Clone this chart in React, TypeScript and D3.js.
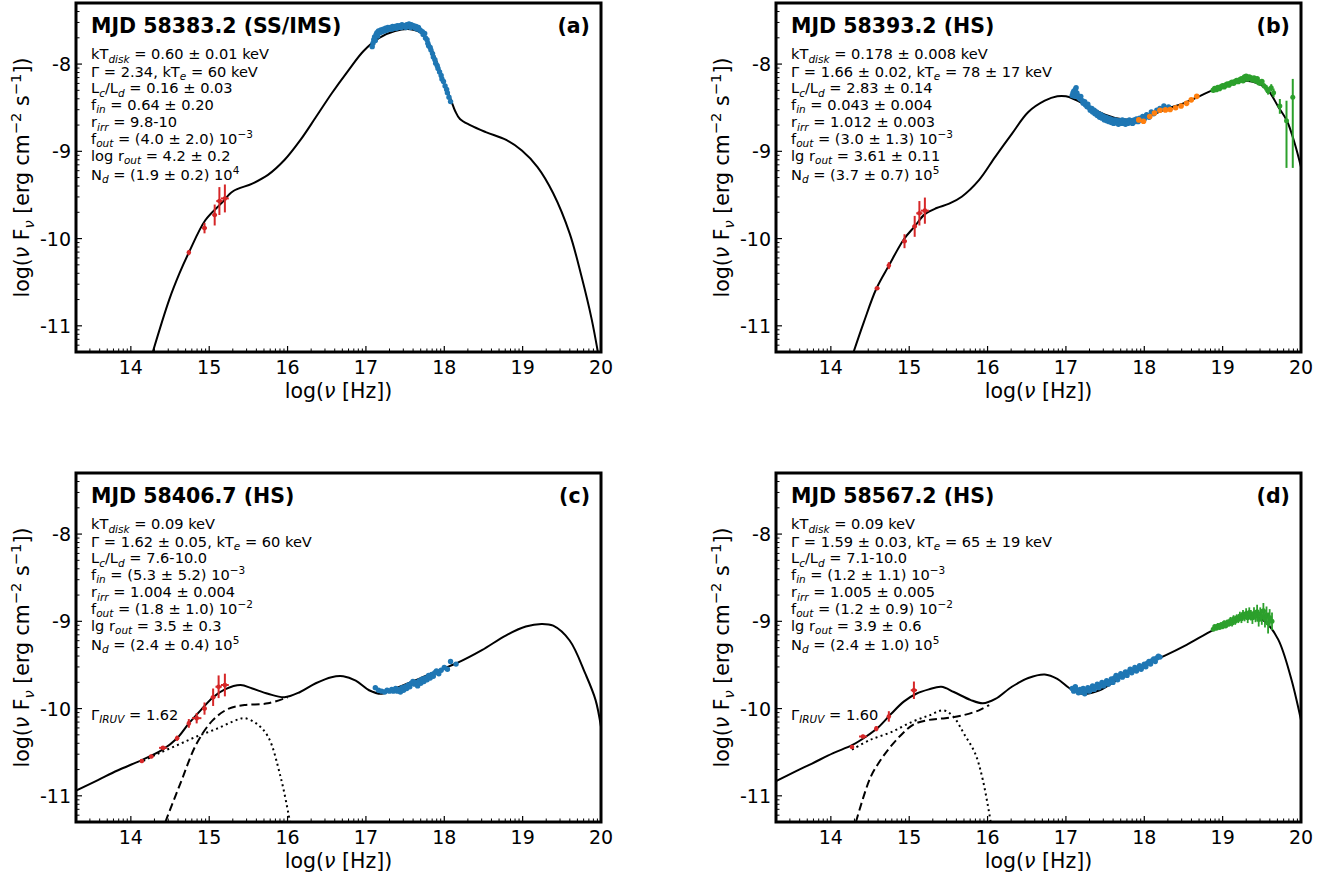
import * as d3 from 'd3';

// axis setup shared by all four panels
const X_DOMAIN: [number, number] = [13.3, 20];
const Y_DOMAIN: [number, number] = [-11.3, -7.3];
const xMajor = [14, 15, 16, 17, 18, 19, 20];
const xTickLabels = ['14', '15', '16', '17', '18', '19', '20'];
const yMajor = [-8, -9, -10, -11];
const yTickLabels = ['-8', '-9', '-10', '-11'];

const BLUE = '#1f77b4';
const ORANGE = '#ff7f0e';
const GREEN = '#2ca02c';
const RED = '#d62728';

type Pt = [number, number];
type ErrPt = [number, number, number, number]; // x, y, xerr, yerr

// ---------- panel (a) ----------
const modelA: Pt[] = [
  [14.28, -11.3], [14.49, -10.7], [14.62, -10.4], [14.74, -10.16], [14.95, -9.79], [15.15, -9.6],
  [15.3, -9.46], [15.55, -9.37], [15.75, -9.27], [15.96, -9.1], [16.16, -8.875], [16.36, -8.61],
  [16.56, -8.34], [16.77, -8.08], [16.97, -7.85], [17.17, -7.7], [17.37, -7.62], [17.57, -7.6],
  [17.73, -7.66], [17.88, -7.92], [18.0, -8.23], [18.08, -8.4], [18.14, -8.54], [18.2, -8.63],
  [18.33, -8.7], [18.53, -8.78], [18.79, -8.87], [18.99, -8.99], [19.19, -9.18], [19.39, -9.48],
  [19.6, -9.94], [19.75, -10.43], [19.88, -10.92], [19.96, -11.3],
];
const blueA: Pt[] = [
  [17.08, -7.8], [17.09, -7.76], [17.1, -7.72], [17.11, -7.69], [17.12, -7.73], [17.13, -7.66],
  [17.14, -7.64], [17.15, -7.68], [17.16, -7.62], [17.18, -7.64], [17.19, -7.61], [17.21, -7.63],
  [17.22, -7.6], [17.24, -7.62], [17.25, -7.59], [17.27, -7.61], [17.28, -7.58], [17.3, -7.6],
  [17.31, -7.58], [17.33, -7.6], [17.34, -7.57], [17.36, -7.59], [17.37, -7.57], [17.39, -7.59],
  [17.4, -7.56], [17.42, -7.58], [17.43, -7.56], [17.45, -7.58], [17.46, -7.55], [17.48, -7.57],
  [17.49, -7.56], [17.51, -7.58], [17.52, -7.55], [17.54, -7.57], [17.55, -7.54], [17.57, -7.58],
  [17.58, -7.55], [17.6, -7.57], [17.61, -7.56], [17.63, -7.59], [17.64, -7.57], [17.66, -7.6],
  [17.67, -7.58], [17.69, -7.61], [17.7, -7.62], [17.72, -7.63], [17.73, -7.66], [17.75, -7.65],
  [17.76, -7.7], [17.78, -7.72], [17.79, -7.76], [17.8, -7.79], [17.82, -7.81], [17.83, -7.84],
  [17.85, -7.88], [17.86, -7.92], [17.88, -7.95], [17.89, -7.99], [17.91, -8.02], [17.92, -8.05],
  [17.94, -8.09], [17.96, -8.13], [17.97, -8.17], [17.99, -8.2], [18.01, -8.25], [18.03, -8.29],
  [18.04, -8.33], [18.06, -8.38], [18.08, -8.43],
];
const redA: ErrPt[] = [
  [14.74, -10.16, 0.01, 0.03], [14.94, -9.88, 0.03, 0.06], [15.07, -9.73, 0.03, 0.12],
  [15.13, -9.57, 0.04, 0.16], [15.2, -9.54, 0.05, 0.16],
];
const linesA = [
  'kT_{disk} = 0.60 ± 0.01 keV',
  'Γ = 2.34, kT_{e} = 60 keV',
  'L_{c}/L_{d} = 0.16 ± 0.03',
  'f_{in} = 0.64 ± 0.20',
  'r_{irr} = 9.8-10',
  'f_{out} = (4.0 ± 2.0) 10^{−3}',
  'log r_{out} = 4.2 ± 0.2',
  'N_{d} = (1.9 ± 0.2) 10^{4}',
];

// ---------- panel (b) ----------
const modelB: Pt[] = [
  [14.29, -11.3], [14.42, -10.96], [14.58, -10.575], [14.74, -10.31], [14.93, -10.01], [15.07, -9.86],
  [15.2, -9.72], [15.35, -9.65], [15.51, -9.6], [15.67, -9.52], [15.89, -9.33], [16.1, -9.06],
  [16.31, -8.8], [16.52, -8.55], [16.73, -8.42], [16.89, -8.37], [17.0, -8.37], [17.1, -8.4],
  [17.3, -8.49], [17.5, -8.58], [17.7, -8.63], [17.9, -8.63], [18.1, -8.58], [18.3, -8.51],
  [18.5, -8.45], [18.7, -8.37], [18.9, -8.29], [19.1, -8.23], [19.3, -8.19], [19.45, -8.22],
  [19.58, -8.3], [19.71, -8.49], [19.82, -8.65], [19.92, -8.91], [20.0, -9.18],
];
const blueB: Pt[] = [
  [17.08, -8.36], [17.09, -8.33], [17.1, -8.31], [17.11, -8.37], [17.12, -8.29], [17.13, -8.27],
  [17.14, -8.33], [17.15, -8.36], [17.16, -8.38], [17.18, -8.4], [17.19, -8.37], [17.21, -8.42],
  [17.22, -8.45], [17.24, -8.43], [17.25, -8.47], [17.27, -8.49], [17.28, -8.46], [17.3, -8.5],
  [17.31, -8.53], [17.33, -8.51], [17.34, -8.55], [17.36, -8.53], [17.37, -8.57], [17.39, -8.55],
  [17.4, -8.59], [17.42, -8.57], [17.43, -8.61], [17.45, -8.58], [17.46, -8.62], [17.48, -8.6],
  [17.49, -8.64], [17.51, -8.61], [17.52, -8.65], [17.54, -8.62], [17.55, -8.66], [17.57, -8.63],
  [17.58, -8.67], [17.6, -8.64], [17.61, -8.68], [17.63, -8.64], [17.64, -8.67], [17.66, -8.65],
  [17.67, -8.69], [17.69, -8.65], [17.7, -8.68], [17.72, -8.64], [17.73, -8.68], [17.75, -8.65],
  [17.76, -8.69], [17.78, -8.66], [17.79, -8.68], [17.81, -8.64], [17.82, -8.67], [17.84, -8.65],
  [17.85, -8.68], [17.87, -8.64], [17.88, -8.66], [17.9, -8.63], [17.92, -8.66], [17.94, -8.62],
  [17.96, -8.64], [17.98, -8.6], [18.0, -8.63], [18.03, -8.58], [18.06, -8.61], [18.09, -8.55],
  [18.12, -8.57], [18.16, -8.53], [18.2, -8.51], [18.25, -8.48], [18.31, -8.49],
];
const orangeB: Pt[] = [
  [17.93, -8.64], [17.99, -8.655], [18.07, -8.6], [18.13, -8.56], [18.2, -8.53], [18.27, -8.525],
  [18.33, -8.52], [18.4, -8.5], [18.47, -8.48], [18.54, -8.45], [18.6, -8.41], [18.67, -8.37],
];
const greenB: Pt[] = [
  [18.88, -8.3], [18.9, -8.28], [18.92, -8.29], [18.94, -8.27], [18.96, -8.28], [18.98, -8.26],
  [19.0, -8.25], [19.02, -8.26], [19.04, -8.24], [19.06, -8.23], [19.08, -8.24], [19.1, -8.22],
  [19.12, -8.21], [19.14, -8.22], [19.16, -8.2], [19.18, -8.19], [19.2, -8.2], [19.22, -8.18],
  [19.24, -8.17], [19.26, -8.19], [19.28, -8.15], [19.3, -8.14], [19.32, -8.17], [19.34, -8.15],
  [19.36, -8.16], [19.38, -8.18], [19.4, -8.16], [19.42, -8.19], [19.44, -8.17], [19.46, -8.21],
  [19.48, -8.22], [19.5, -8.2],
];
// green points with (asymmetric) error bars: x, y, low, high
const greenBErr: [number, number, number, number][] = [
  [19.53, -8.25, -8.28, -8.22], [19.56, -8.28, -8.32, -8.24], [19.58, -8.31, -8.35, -8.27],
  [19.62, -8.27, -8.31, -8.23], [19.65, -8.33, -8.38, -8.28], [19.73, -8.48, -8.57, -8.4],
  [19.815, -8.65, -9.19, -8.42], [19.895, -8.38, -9.19, -8.17],
];
const redB: ErrPt[] = [
  [14.59, -10.57, 0.03, 0.02], [14.74, -10.31, 0.02, 0.04], [14.94, -10.03, 0.03, 0.08],
  [15.07, -9.86, 0.03, 0.12], [15.13, -9.71, 0.04, 0.14], [15.2, -9.68, 0.05, 0.15],
];
const linesB = [
  'kT_{disk} = 0.178 ± 0.008 keV',
  'Γ = 1.66 ± 0.02, kT_{e} = 78 ± 17 keV',
  'L_{c}/L_{d} = 2.83 ± 0.14',
  'f_{in} = 0.043 ± 0.004',
  'r_{irr} = 1.012 ± 0.003',
  'f_{out} = (3.0 ± 1.3) 10^{−3}',
  'lg r_{out} = 3.61 ± 0.11',
  'N_{d} = (3.7 ± 0.7) 10^{5}',
];

// ---------- panel (c) ----------
const modelC: Pt[] = [
  [13.28, -10.95], [13.58, -10.82], [13.83, -10.71], [14.14, -10.59], [14.39, -10.48], [14.59, -10.34],
  [14.74, -10.17], [14.89, -10.02], [15.05, -9.87], [15.2, -9.78], [15.4, -9.73], [15.55, -9.77],
  [15.75, -9.83], [15.96, -9.87], [16.16, -9.81], [16.36, -9.71], [16.56, -9.64], [16.71, -9.63],
  [16.87, -9.68], [17.04, -9.79], [17.2, -9.83], [17.37, -9.77], [17.62, -9.68], [17.88, -9.58],
  [18.18, -9.47], [18.48, -9.33], [18.79, -9.16], [19.04, -9.06], [19.24, -9.03], [19.39, -9.05],
  [19.6, -9.22], [19.8, -9.6], [19.93, -9.9], [20.0, -10.21],
];
const dashC: Pt[] = [
  [14.44, -11.3], [14.64, -10.84], [14.84, -10.4], [15.05, -10.13], [15.25, -10.0], [15.45, -9.96],
  [15.75, -9.94], [16.0, -9.87],
];
const dotC: Pt[] = [
  [14.16, -10.6], [14.34, -10.52], [14.59, -10.42], [14.84, -10.32], [15.1, -10.23], [15.35, -10.13],
  [15.45, -10.11], [15.6, -10.17], [15.75, -10.32], [15.91, -10.78], [16.01, -11.2], [16.03, -11.3],
];
const blueC: Pt[] = [
  [17.12, -9.76], [17.16, -9.79], [17.2, -9.8], [17.24, -9.81], [17.27, -9.79], [17.3, -9.8],
  [17.33, -9.78], [17.35, -9.8], [17.38, -9.77], [17.4, -9.8], [17.42, -9.78], [17.44, -9.81],
  [17.46, -9.76], [17.48, -9.79], [17.5, -9.75], [17.52, -9.77], [17.54, -9.73], [17.56, -9.75],
  [17.58, -9.71], [17.6, -9.69], [17.62, -9.72], [17.64, -9.7], [17.66, -9.74], [17.68, -9.68],
  [17.7, -9.71], [17.72, -9.66], [17.74, -9.69], [17.76, -9.65], [17.78, -9.67], [17.8, -9.62],
  [17.82, -9.65], [17.84, -9.61], [17.86, -9.63], [17.88, -9.59], [17.9, -9.57], [17.93, -9.6],
  [17.96, -9.56], [18.0, -9.53], [18.04, -9.55], [18.08, -9.46], [18.15, -9.49],
];
const redC: ErrPt[] = [
  [14.14, -10.6, 0.02, 0.02], [14.26, -10.55, 0.03, 0.02], [14.41, -10.45, 0.05, 0.02],
  [14.59, -10.34, 0.02, 0.03], [14.74, -10.17, 0.02, 0.05], [14.84, -10.11, 0.06, 0.06],
  [14.94, -10.0, 0.03, 0.07], [15.05, -9.87, 0.03, 0.1], [15.12, -9.75, 0.04, 0.13],
  [15.2, -9.73, 0.05, 0.13],
];
const linesC = [
  'kT_{disk} = 0.09 keV',
  'Γ = 1.62 ± 0.05, kT_{e} = 60 keV',
  'L_{c}/L_{d} = 7.6-10.0',
  'f_{in} = (5.3 ± 5.2) 10^{−3}',
  'r_{irr} = 1.004 ± 0.004',
  'f_{out} = (1.8 ± 1.0) 10^{−2}',
  'lg r_{out} = 3.5 ± 0.3',
  'N_{d} = (2.4 ± 0.4) 10^{5}',
];

// ---------- panel (d) ----------
const modelD: Pt[] = [
  [13.28, -10.84], [13.55, -10.72], [13.76, -10.63], [14.03, -10.51], [14.27, -10.42], [14.45, -10.32],
  [14.61, -10.21], [14.77, -10.06], [14.93, -9.92], [15.09, -9.83], [15.25, -9.78], [15.41, -9.75],
  [15.57, -9.81], [15.78, -9.9], [15.94, -9.94], [16.1, -9.89], [16.31, -9.75], [16.52, -9.65],
  [16.73, -9.61], [16.89, -9.66], [17.05, -9.77], [17.21, -9.83], [17.43, -9.79], [17.74, -9.62],
  [18.01, -9.49], [18.27, -9.39], [18.54, -9.27], [18.88, -9.1], [19.07, -9.03], [19.23, -8.96],
  [19.39, -8.94], [19.55, -9.01], [19.71, -9.21], [19.87, -9.64], [20.0, -10.13],
];
const dashD: Pt[] = [
  [14.32, -11.3], [14.5, -10.8], [14.62, -10.61], [14.75, -10.45], [14.9, -10.3], [15.06, -10.18],
  [15.25, -10.13], [15.46, -10.11], [15.67, -10.08], [15.89, -10.02], [16.02, -9.96],
];
const dotD: Pt[] = [
  [14.27, -10.47], [14.5, -10.36], [14.77, -10.27], [15.04, -10.15], [15.25, -10.08], [15.44, -10.02],
  [15.57, -10.1], [15.7, -10.29], [15.84, -10.51], [15.94, -10.82], [16.04, -11.3],
];
const blueD: Pt[] = [
  [17.08, -9.77], [17.1, -9.8], [17.12, -9.75], [17.14, -9.79], [17.16, -9.82], [17.18, -9.78],
  [17.2, -9.81], [17.22, -9.77], [17.24, -9.83], [17.26, -9.79], [17.28, -9.76], [17.3, -9.8],
  [17.32, -9.77], [17.34, -9.74], [17.36, -9.78], [17.38, -9.75], [17.4, -9.72], [17.42, -9.76],
  [17.44, -9.73], [17.46, -9.7], [17.48, -9.74], [17.5, -9.71], [17.52, -9.68], [17.54, -9.72],
  [17.56, -9.69], [17.58, -9.66], [17.6, -9.7], [17.62, -9.65], [17.64, -9.62], [17.66, -9.67],
  [17.68, -9.63], [17.7, -9.6], [17.72, -9.64], [17.74, -9.61], [17.76, -9.58], [17.78, -9.62],
  [17.8, -9.58], [17.82, -9.55], [17.84, -9.59], [17.86, -9.56], [17.88, -9.53], [17.9, -9.57],
  [17.92, -9.54], [17.94, -9.51], [17.96, -9.55], [17.98, -9.52], [18.0, -9.49], [18.02, -9.52],
  [18.04, -9.48], [18.06, -9.46], [18.08, -9.49], [18.1, -9.45], [18.12, -9.43], [18.14, -9.46],
  [18.16, -9.42], [18.18, -9.4], [18.2, -9.41],
];
// green points with symmetric y error: x, y, yerr
const greenD: [number, number, number][] = [
  [18.88, -9.09, 0.02], [18.9, -9.06, 0.02], [18.92, -9.08, 0.02], [18.94, -9.05, 0.03],
  [18.96, -9.07, 0.02], [18.98, -9.04, 0.03], [19.0, -9.06, 0.03], [19.02, -9.02, 0.03],
  [19.04, -9.05, 0.03], [19.06, -9.01, 0.03], [19.08, -9.03, 0.03], [19.1, -8.99, 0.04],
  [19.12, -9.02, 0.04], [19.14, -8.97, 0.04], [19.16, -9.0, 0.04], [19.18, -8.96, 0.04],
  [19.2, -8.98, 0.04], [19.22, -8.94, 0.05], [19.24, -8.97, 0.05], [19.26, -8.92, 0.05],
  [19.28, -8.95, 0.05], [19.3, -8.91, 0.06], [19.32, -8.96, 0.06], [19.34, -8.9, 0.06],
  [19.36, -8.93, 0.06], [19.38, -8.96, 0.07], [19.4, -8.91, 0.07], [19.42, -8.94, 0.07],
  [19.44, -8.89, 0.08], [19.46, -8.98, 0.08], [19.48, -8.92, 0.08], [19.5, -8.95, 0.09],
  [19.52, -8.88, 0.09], [19.54, -8.97, 0.1], [19.56, -8.93, 0.1], [19.58, -9.02, 0.12],
  [19.6, -8.96, 0.1], [19.63, -9.0, 0.1],
];
const redD: ErrPt[] = [
  [14.27, -10.44, 0.02, 0.02], [14.41, -10.32, 0.05, 0.02], [14.58, -10.23, 0.02, 0.03],
  [14.74, -10.09, 0.01, 0.06], [15.06, -9.79, 0.04, 0.1],
];
const linesD = [
  'kT_{disk} = 0.09 keV',
  'Γ = 1.59 ± 0.03, kT_{e} = 65 ± 19 keV',
  'L_{c}/L_{d} = 7.1-10.0',
  'f_{in} = (1.2 ± 1.1) 10^{−3}',
  'r_{irr} = 1.005 ± 0.005',
  'f_{out} = (1.2 ± 0.9) 10^{−2}',
  'lg r_{out} = 3.9 ± 0.6',
  'N_{d} = (2.4 ± 1.0) 10^{5}',
];

const titles = ['MJD 58383.2 (SS/IMS)', 'MJD 58393.2 (HS)', 'MJD 58406.7 (HS)', 'MJD 58567.2 (HS)'];
const tags = ['(a)', '(b)', '(c)', '(d)'];
const gammaLabels = ['', '', 'Γ_{IRUV} = 1.62', 'Γ_{IRUV} = 1.60'];

const FONT = 'DejaVu Sans, sans-serif';
const PW = 525;
const PH = 349;
const TXT = 14.6;
const lineBaselines = [56.3, 73.5, 90.3, 107, 124.3, 141, 158, 177];

// tiny markup: _{sub} (italic), ^{sup}, *italic*
function parse(s: string) {
  const out: { t: string; kind: string }[] = [];
  const re = /_\{([^}]*)\}|\^\{([^}]*)\}|\*([^*]*)\*/g;
  let last = 0;
  let m: RegExpExecArray | null;
  while ((m = re.exec(s))) {
    if (m.index > last) out.push({ t: s.slice(last, m.index), kind: 'n' });
    if (m[1] !== undefined) out.push({ t: m[1], kind: 'sub' });
    else if (m[2] !== undefined) out.push({ t: m[2], kind: 'sup' });
    else out.push({ t: m[3], kind: 'it' });
    last = re.lastIndex;
  }
  if (last < s.length) out.push({ t: s.slice(last), kind: 'n' });
  return out;
}

function Rich({ text, size }: { text: string; size: number }) {
  let cur = 0;
  return (
    <>
      {parse(text).map((seg, i) => {
        const target = seg.kind === 'sub' ? 0.22 * size : seg.kind === 'sup' ? -0.4 * size : 0;
        const dy = target - cur;
        cur = target;
        const small = seg.kind === 'sub' || seg.kind === 'sup';
        return (
          <tspan
            key={i}
            dy={dy}
            fontSize={small ? size * 0.72 : size}
            fontStyle={seg.kind === 'sub' || seg.kind === 'it' ? 'italic' : 'normal'}
          >
            {seg.t}
          </tspan>
        );
      })}
    </>
  );
}

interface PanelProps {
  idx: number;
  left: number;
  top: number;
  model: Pt[];
  dash?: Pt[];
  dot?: Pt[];
  blue: Pt[];
  orange?: Pt[];
  greenPlain?: Pt[];
  greenAsym?: [number, number, number, number][];
  greenSym?: [number, number, number][];
  red: ErrPt[];
  lines: string[];
}

function Panel(p: PanelProps) {
  const x = d3.scaleLinear().domain(X_DOMAIN).range([p.left, p.left + PW]);
  const y = d3.scaleLinear().domain(Y_DOMAIN).range([p.top + PH, p.top]);
  const line = d3
    .line<Pt>()
    .x((d) => x(d[0]))
    .y((d) => y(d[1]))
    .curve(d3.curveCatmullRom.alpha(0.5));
  const bottom = p.top + PH;
  const clipId = `clip${p.idx}`;

  const xMinor: number[] = [];
  for (let n = 13; n < 20; n++)
    for (let k = 2; k <= 9; k++) {
      const v = n + Math.log10(k);
      if (v > X_DOMAIN[0] && v < X_DOMAIN[1]) xMinor.push(v);
    }
  const yMinor: number[] = [];
  for (let n = -12; n < -7; n++)
    for (let k = 2; k <= 9; k++) {
      const v = n + Math.log10(k);
      if (v > Y_DOMAIN[0] && v < Y_DOMAIN[1]) yMinor.push(v);
    }

  return (
    <g>
      <defs>
        <clipPath id={clipId}>
          <rect x={p.left} y={p.top} width={PW} height={PH} />
        </clipPath>
      </defs>
      <g clipPath={`url(#${clipId})`}>
        {p.dash && (
          <path d={line(p.dash) || ''} fill="none" stroke="#000" strokeWidth={2} strokeDasharray="8,4" />
        )}
        {p.dot && (
          <path d={line(p.dot) || ''} fill="none" stroke="#000" strokeWidth={2} strokeDasharray="2,3.3" />
        )}
        <path d={line(p.model) || ''} fill="none" stroke="#000" strokeWidth={2} />
        {p.blue.map((d, i) => (
          <circle key={`b${i}`} cx={x(d[0])} cy={y(d[1])} r={2.7} fill={BLUE} />
        ))}
        {(p.orange || []).map((d, i) => (
          <circle key={`o${i}`} cx={x(d[0])} cy={y(d[1])} r={2.8} fill={ORANGE} />
        ))}
        {(p.greenPlain || []).map((d, i) => (
          <circle key={`g${i}`} cx={x(d[0])} cy={y(d[1])} r={2.8} fill={GREEN} />
        ))}
        {(p.greenAsym || []).map((d, i) => (
          <g key={`ga${i}`}>
            <line x1={x(d[0])} x2={x(d[0])} y1={y(d[2])} y2={y(d[3])} stroke={GREEN} strokeWidth={2} />
            <circle cx={x(d[0])} cy={y(d[1])} r={2.5} fill={GREEN} />
          </g>
        ))}
        {(p.greenSym || []).map((d, i) => (
          <g key={`gs${i}`}>
            <line x1={x(d[0])} x2={x(d[0])} y1={y(d[1] - d[2])} y2={y(d[1] + d[2])} stroke={GREEN} strokeWidth={1.8} />
            <circle cx={x(d[0])} cy={y(d[1])} r={2.5} fill={GREEN} />
          </g>
        ))}
        {p.red.map((d, i) => (
          <g key={`r${i}`}>
            <line x1={x(d[0])} x2={x(d[0])} y1={y(d[1] - d[3])} y2={y(d[1] + d[3])} stroke={RED} strokeWidth={2} />
            <line x1={x(d[0] - d[2])} x2={x(d[0] + d[2])} y1={y(d[1])} y2={y(d[1])} stroke={RED} strokeWidth={2} />
            <circle cx={x(d[0])} cy={y(d[1])} r={2.3} fill={RED} />
          </g>
        ))}
      </g>

      {/* ticks, inward on bottom and left */}
      {xMinor.map((v, i) => (
        <line key={`xm${i}`} x1={x(v)} x2={x(v)} y1={bottom} y2={bottom - 3.5} stroke="#000" strokeWidth={1} />
      ))}
      {xMajor.map((v, i) => (
        <line key={`xM${i}`} x1={x(v)} x2={x(v)} y1={bottom} y2={bottom - 6} stroke="#000" strokeWidth={1.2} />
      ))}
      {yMinor.map((v, i) => (
        <line key={`ym${i}`} x1={p.left} x2={p.left + 3.5} y1={y(v)} y2={y(v)} stroke="#000" strokeWidth={1} />
      ))}
      {yMajor.map((v, i) => (
        <line key={`yM${i}`} x1={p.left} x2={p.left + 6} y1={y(v)} y2={y(v)} stroke="#000" strokeWidth={1.2} />
      ))}
      <rect x={p.left} y={p.top} width={PW} height={PH} fill="none" stroke="#000" strokeWidth={3} />

      {/* tick labels */}
      {xMajor.map((v, i) => (
        <text key={`xl${i}`} x={x(v)} y={bottom + 22} textAnchor="middle" fontSize={19} fontFamily={FONT}>
          {xTickLabels[i]}
        </text>
      ))}
      {yMajor.map((v, i) => (
        <text key={`yl${i}`} x={p.left - 5} y={y(v) + 7} textAnchor="end" fontSize={19} fontFamily={FONT}>
          {yTickLabels[i]}
        </text>
      ))}

      {/* axis titles */}
      <text x={p.left + PW / 2} y={bottom + 46} textAnchor="middle" fontSize={20.5} fontFamily={FONT} style={{ whiteSpace: 'pre' }}>
        <Rich text={'log(*ν* [Hz])'} size={20.5} />
      </text>
      <text
        transform={`translate(${p.left - 47},${p.top + PH / 2}) rotate(-90)`}
        textAnchor="middle"
        fontSize={20.5}
        fontFamily={FONT}
        style={{ whiteSpace: 'pre' }}
      >
        <Rich text={'log(*ν* F_{ν} [erg cm^{−2} s^{−1}])'} size={20.5} />
      </text>

      {/* annotations */}
      <text x={p.left + 15} y={p.top + 29.5} fontSize={20.5} fontWeight="bold" fontFamily={FONT}>
        {titles[p.idx]}
      </text>
      <text x={p.left + PW - 11} y={p.top + 29.5} textAnchor="end" fontSize={20.5} fontWeight="bold" fontFamily={FONT}>
        {tags[p.idx]}
      </text>
      {p.lines.map((l, i) => (
        <text key={`t${i}`} x={p.left + 15} y={p.top + lineBaselines[i]} fontSize={TXT} fontFamily={FONT} style={{ whiteSpace: 'pre' }}>
          <Rich text={l} size={TXT} />
        </text>
      ))}
      {gammaLabels[p.idx] && (
        <text x={p.left + 15} y={p.top + 246.5} fontSize={TXT} fontFamily={FONT} style={{ whiteSpace: 'pre' }}>
          <Rich text={gammaLabels[p.idx]} size={TXT} />
        </text>
      )}
    </g>
  );
}

export default function App() {
  return (
    <svg
      width={1342}
      height={881}
      style={{ position: 'absolute', left: 0, top: 0, background: '#fff' }}
    >
      <rect width={1342} height={881} fill="#fff" />
      <Panel idx={0} left={76} top={3} model={modelA} blue={blueA} red={redA} lines={linesA} />
      <Panel
        idx={1}
        left={776}
        top={3}
        model={modelB}
        blue={blueB}
        orange={orangeB}
        greenPlain={greenB}
        greenAsym={greenBErr}
        red={redB}
        lines={linesB}
      />
      <Panel idx={2} left={76} top={473} model={modelC} dash={dashC} dot={dotC} blue={blueC} red={redC} lines={linesC} />
      <Panel
        idx={3}
        left={776}
        top={473}
        model={modelD}
        dash={dashD}
        dot={dotD}
        blue={blueD}
        greenSym={greenD}
        red={redD}
        lines={linesD}
      />
    </svg>
  );
}
